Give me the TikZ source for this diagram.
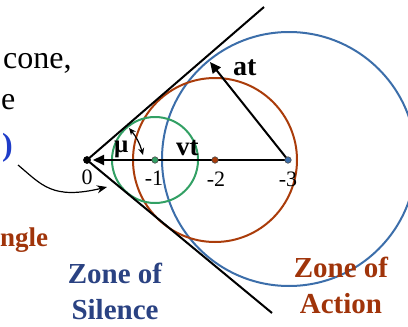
\documentclass[tikz,border=0pt]{standalone}
\usepackage{fontspec}
\setmainfont{Liberation Serif}
\usetikzlibrary{arrows.meta}
\definecolor{cgreen}{RGB}{50,160,100}
\definecolor{cbrown}{RGB}{170,60,10}
\definecolor{cblue}{RGB}{60,110,170}
\definecolor{tbrown}{RGB}{160,52,10}
\definecolor{tdblue}{RGB}{42,66,130}
\definecolor{tblue}{RGB}{30,60,200}
\tikzset{
  circ/.style={line width=2pt},
  cone/.style={line width=2pt,black},
  vec/.style={line width=2pt,-{Triangle[length=11pt,width=10pt]}},
  dotp/.style={circle,inner sep=0pt,minimum size=6.5pt,draw=black!70,line width=0.6pt},
  tick/.style={font=\fontsize{22}{24}\selectfont,anchor=base,inner sep=0pt},
  big/.style={font=\fontsize{32}{36}\selectfont,inner sep=0pt},
  zone/.style={font=\fontsize{29}{30}\selectfont\bfseries,anchor=base,inner sep=0pt},
  lab/.style={font=\fontsize{28}{30}\selectfont\bfseries,inner sep=0pt},
}
\begin{document}
\begin{tikzpicture}[x=1pt,y=-1pt]
\useasboundingbox (0,0) rectangle (408,327);
% key points
\coordinate (O) at (87,160);
\coordinate (P1) at (155,160);
\coordinate (P2) at (215,160);
\coordinate (P3) at (288,160);
\coordinate (U) at (264,7);
\coordinate (L) at (272,313);
\coordinate (T) at (210,62);
\coordinate (V) at (93,160);
% circles
\draw[circ,cblue] (289,159) circle[radius=127];
\draw[circ,cbrown] (P2) circle[radius=82];
\draw[circ,cgreen] (P1) circle[radius=43];
% cone
\draw[cone] (U) -- (O) -- (L);
% vectors
\draw[vec] (P3) -- (V);
\draw[vec] (P3) -- (T);
% dots
\node[dotp,fill=black,draw=black,minimum size=7pt] (o) at (O) {};
\node[dotp,fill=cgreen] (d1) at (P1) {};
\node[dotp,fill=cbrown] (d2) at (P2) {};
\node[dotp,fill=cblue] (d3) at (P3) {};
% mu arrow
\coordinate (m1) at (129,128);
\coordinate (m2) at (143,155);
\draw[line width=1.2pt,{Stealth[length=7pt,width=6pt]}-{Stealth[length=7pt,width=6pt]}] (m1) to[bend left=12] (m2);
% labels
\node[tick] (t0) at (87,184) {0};
\node[tick] (t1) at (154,185) {-1};
\node[tick] (t2) at (216,186) {-2};
\node[tick] (t3) at (288,186) {-3};
\node[lab,anchor=base west] (at) at (233,75) {at};
\node[lab,anchor=base west,font=\fontsize{27}{30}\selectfont\bfseries] (vt) at (176,155) {vt};
\node[lab,anchor=base west,font=\fontsize{25}{30}\selectfont\bfseries] (mu) at (114,152) {μ};
% left texts
\node[big,anchor=base west] (cone) at (3,68) {cone,};
\node[big,anchor=base west] (e) at (1,109) {e};
\node[big,anchor=base east,text=tblue,font=\fontsize{32}{36}\selectfont\bfseries] (paren) at (13,155) {)};
\node[lab,anchor=base west,text=tbrown,font=\fontsize{27}{30}\selectfont\bfseries] (angle) at (0,246) {ngle};
\node[zone,text=tdblue] (zs1) at (115,283) {Zone of};
\node[zone,text=tdblue] (zs2) at (115,319) {Silence};
\node[zone,text=tbrown] (za1) at (341,277) {Zone of};
\node[zone,text=tbrown] (za2) at (341,313) {Action};
% pointer arrow
\coordinate (s) at (18,165);
\coordinate (e2) at (107,187);
\draw[line width=1.2pt,-{Stealth[length=10pt,width=8pt]}] (s) .. controls (42,185) and (52,200) .. (e2);
\end{tikzpicture}
\end{document}
